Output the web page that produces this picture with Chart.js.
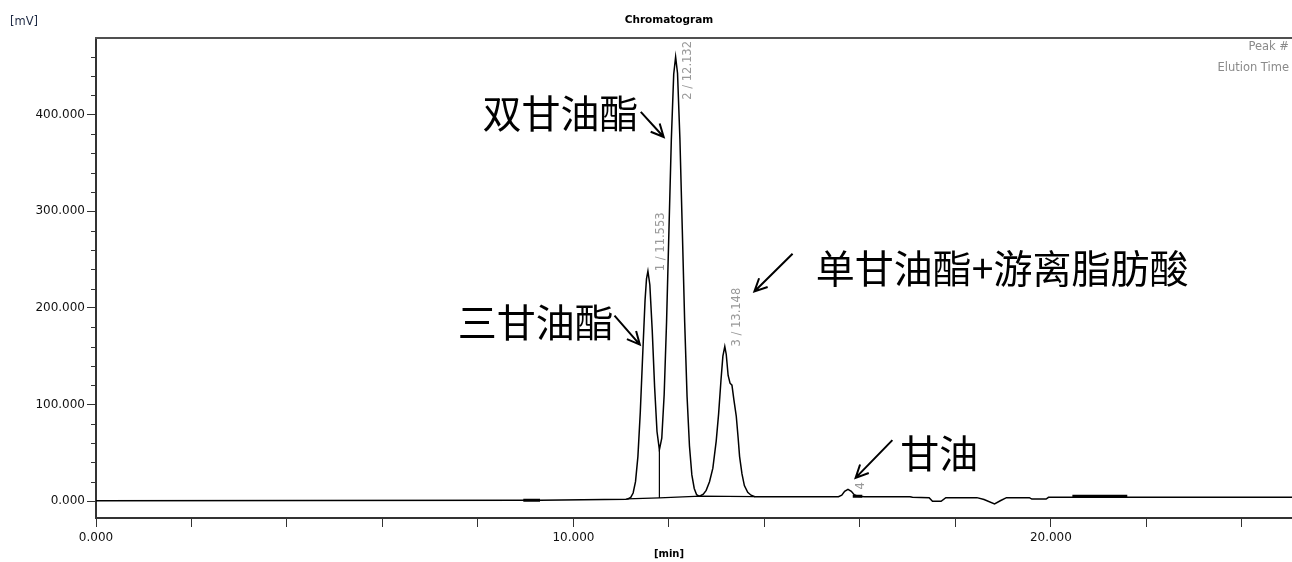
<!DOCTYPE html>
<html><head><meta charset="utf-8">
<script src="https://cdn.jsdelivr.net/npm/chart.js@4.4.1/dist/chart.umd.min.js"></script>
<style>html,body{margin:0;padding:0;background:#fff;}#wrap{width:1292px;height:562px;position:relative;}</style>
</head><body><div id="wrap"><canvas id="c" width="1292" height="562"></canvas></div>
<script>
// ---- data ----
const traceTimes = [0.00, 8.95, 9.30, 11.10, 11.15, 11.20, 11.25, 11.30, 11.35, 11.40, 11.45, 11.50, 11.53, 11.56,
  11.60, 11.65, 11.70, 11.75, 11.80, 11.85, 11.90, 11.95, 12.00, 12.05, 12.10, 12.14, 12.18, 12.23, 12.28, 12.33,
  12.38, 12.43, 12.48, 12.53, 12.58, 12.63, 12.66, 12.72, 12.78, 12.85, 12.92, 12.99, 13.04, 13.09, 13.13, 13.17,
  13.20, 13.24, 13.28, 13.32, 13.36, 13.41, 13.45, 13.48, 13.53, 13.58, 13.65, 13.72, 13.80, 15.55, 15.62, 15.68,
  15.75, 15.82, 15.88, 15.95, 16.10, 17.05, 17.10, 17.45, 17.52, 17.70, 17.80, 18.45, 18.60, 18.82, 18.95, 19.07,
  19.55, 19.60, 19.90, 19.95, 25.10];
const traceValues = [0.3, 0.8, 0.8, 1.8, 2.4, 3.7, 8.3, 20, 46, 92, 151, 208, 230, 238,
  224, 177, 118, 72, 53, 65, 110, 185, 280, 374, 442, 460, 443, 375, 281, 185,
  108, 57, 27, 13, 6.5, 5, 5.5, 7, 11, 20, 34, 62, 90, 125, 150, 160,
  152, 130, 122, 120, 105, 88, 65, 46, 28, 16, 9, 6, 4.5, 4.5, 6, 10,
  12, 10, 6.5, 5, 4.5, 4.5, 3.8, 3.5, -0.3, -0.3, 3.5, 3.5, 1.5, -3, 0.5, 3.5,
  3.5, 2, 2, 3.8, 3.8];

const baseTimes = [11.12, 11.80, 12.66, 13.80];
const baseValues = [2.2, 3.2, 5.0, 4.5];
const dropTimes = [11.80, 11.80];
const dropValues = [3.2, 53];
const markTimes = [8.95, 9.30, null, 15.85, 16.05, null, 20.45, 21.60];
const markValues = [0.9, 0.9, null, 5, 5, null, 5, 5];

const peakTimes = [11.553, 12.132, 13.148, 15.75];
const peakHeights = [238, 460, 160, 12];
const peakLabels = ['1 / 11.553', '2 / 12.132', '3 / 13.148', '4'];

const yTickValues = [0, 100, 200, 300, 400];
const yTickLabels = ['0.000', '100.000', '200.000', '300.000', '400.000'];
const xTickValues = [0, 10, 20];
const xTickLabels = ['0.000', '10.000', '20.000'];

const legendLines = ['Peak #', 'Elution Time'];
const titleText = 'Chromatogram';
const yUnit = '[mV]';
const xUnit = '[min]';

// annotation placement (data coordinates), separate from the data
const annotations = [
  {text: '双甘油酯', t: 9.73, v: 402, from: [11.41, 403], to: [11.89, 377]},
  {text: '三甘油酯', t: 9.21, v: 185, from: [10.86, 192], to: [11.39, 162]},
  {text: '单甘油酯+游离脂肪酸', t: 18.98, v: 241, from: [14.59, 256], to: [13.79, 217]},
  {text: '甘油', t: 17.66, v: 50, from: [16.68, 63], to: [15.91, 24]}
];

const pts = (xs, ys) => xs.map((x, i) => (x === null ? {x: NaN, y: null} : {x: x, y: ys[i]}));

const overlay = {
  id: 'overlay',
  afterDraw(chart) {
    const ctx = chart.ctx, a = chart.chartArea, xs = chart.scales.x, ys = chart.scales.y;
    ctx.save();
    // top frame
    ctx.strokeStyle = '#505050'; ctx.lineWidth = 2;
    ctx.beginPath(); ctx.moveTo(a.left - 1, a.top); ctx.lineTo(a.right, a.top); ctx.stroke();
    // minor y ticks
    ctx.strokeStyle = '#333'; ctx.lineWidth = 1;
    ys.ticks.forEach(t => {
      if (!yTickValues.includes(t.value)) {
        const py = Math.round(ys.getPixelForValue(t.value)) + 0.5;
        ctx.beginPath(); ctx.moveTo(a.left - 5, py); ctx.lineTo(a.left, py); ctx.stroke();
      }
    });
    // title & units
    ctx.fillStyle = '#000';
    ctx.textAlign = 'center'; ctx.textBaseline = 'middle';
    ctx.font = 'bold 10.5px "DejaVu Sans"';
    ctx.fillText(titleText, 669, 20);
    ctx.font = 'bold 10px "DejaVu Sans"';
    ctx.fillText(xUnit, 669, 554);
    ctx.textAlign = 'left'; ctx.fillStyle = '#1e2a44';
    ctx.font = '11.5px "DejaVu Sans"';
    ctx.fillText(yUnit, 10, 22);
    // legend
    ctx.fillStyle = '#8a8a8a'; ctx.textAlign = 'right';
    ctx.font = '11.5px "DejaVu Sans"';
    legendLines.forEach((s, i) => ctx.fillText(s, a.right - 3, 47 + i * 21));
    // peak labels
    ctx.fillStyle = '#999';
    ctx.font = '11.5px "DejaVu Sans"';
    peakLabels.forEach((s, i) => {
      const px = xs.getPixelForValue(peakTimes[i]) + 13;
      const py = ys.getPixelForValue(peakHeights[i]);
      const w = ctx.measureText(s).width;
      const bottom = Math.max(py, a.top + 3 + w);
      ctx.save(); ctx.translate(px, bottom); ctx.rotate(-Math.PI / 2);
      ctx.textAlign = 'left'; ctx.textBaseline = 'middle';
      ctx.fillText(s, 0, 0); ctx.restore();
    });
    // annotations
    ctx.fillStyle = '#000'; ctx.strokeStyle = '#000';
    ctx.font = '39px "Noto Sans CJK SC"';
    ctx.textAlign = 'center'; ctx.textBaseline = 'middle';
    annotations.forEach(an => {
      ctx.fillText(an.text, xs.getPixelForValue(an.t), ys.getPixelForValue(an.v));
      const x1 = xs.getPixelForValue(an.from[0]), y1 = ys.getPixelForValue(an.from[1]);
      const x2 = xs.getPixelForValue(an.to[0]), y2 = ys.getPixelForValue(an.to[1]);
      const ang = Math.atan2(y2 - y1, x2 - x1), L = 14, sp = 0.45;
      ctx.lineWidth = 2;
      ctx.beginPath(); ctx.moveTo(x1, y1); ctx.lineTo(x2, y2);
      ctx.moveTo(x2 - L * Math.cos(ang - sp), y2 - L * Math.sin(ang - sp)); ctx.lineTo(x2, y2);
      ctx.lineTo(x2 - L * Math.cos(ang + sp), y2 - L * Math.sin(ang + sp));
      ctx.stroke();
    });
    ctx.restore();
  }
};

new Chart(document.getElementById('c'), {
  type: 'line',
  data: {
    datasets: [
      {data: pts(traceTimes, traceValues), borderColor: '#000', borderWidth: 1.5, pointRadius: 0, tension: 0},
      {data: pts(baseTimes, baseValues), borderColor: '#000', borderWidth: 1.2, pointRadius: 0, tension: 0},
      {data: pts(dropTimes, dropValues), borderColor: '#000', borderWidth: 1.2, pointRadius: 0, tension: 0},
      {data: pts(markTimes, markValues), borderColor: '#000', borderWidth: 3, pointRadius: 0, tension: 0, spanGaps: false}
    ]
  },
  options: {
    responsive: false, animation: false, events: [],
    layout: {padding: {top: 38, left: 0, right: 0, bottom: 0}},
    plugins: {legend: {display: false}, tooltip: {enabled: false}, title: {display: false}},
    scales: {
      x: {
        type: 'linear', min: 0, max: 25.05,
        afterFit: s => { s.height = 44; },
        border: {display: true, color: '#333', width: 2},
        grid: {display: true, drawOnChartArea: false, drawTicks: true, tickLength: 9, color: '#333', tickColor: '#333'},
        ticks: {stepSize: 2, autoSkip: false, includeBounds: false, maxRotation: 0, padding: 4,
          color: '#111', font: {family: 'DejaVu Sans', size: 12},
          callback: v => { const i = xTickValues.indexOf(v); return i >= 0 ? xTickLabels[i] : ''; }}
      },
      y: {
        type: 'linear', min: -17.6, max: 479.5,
        afterFit: s => { s.width = 96; },
        border: {display: true, color: '#333', width: 2},
        grid: {display: true, drawOnChartArea: false, drawTicks: true, tickLength: 9, color: '#333',
          tickColor: c => (yTickValues.includes(c.tick && c.tick.value) ? '#333' : 'rgba(0,0,0,0)')},
        ticks: {stepSize: 20, autoSkip: false, includeBounds: false, padding: 2,
          color: '#111', font: {family: 'DejaVu Sans', size: 12},
          callback: v => { const i = yTickValues.indexOf(v); return i >= 0 ? yTickLabels[i] : ''; }}
      }
    }
  },
  plugins: [overlay]
});
</script></body></html>
